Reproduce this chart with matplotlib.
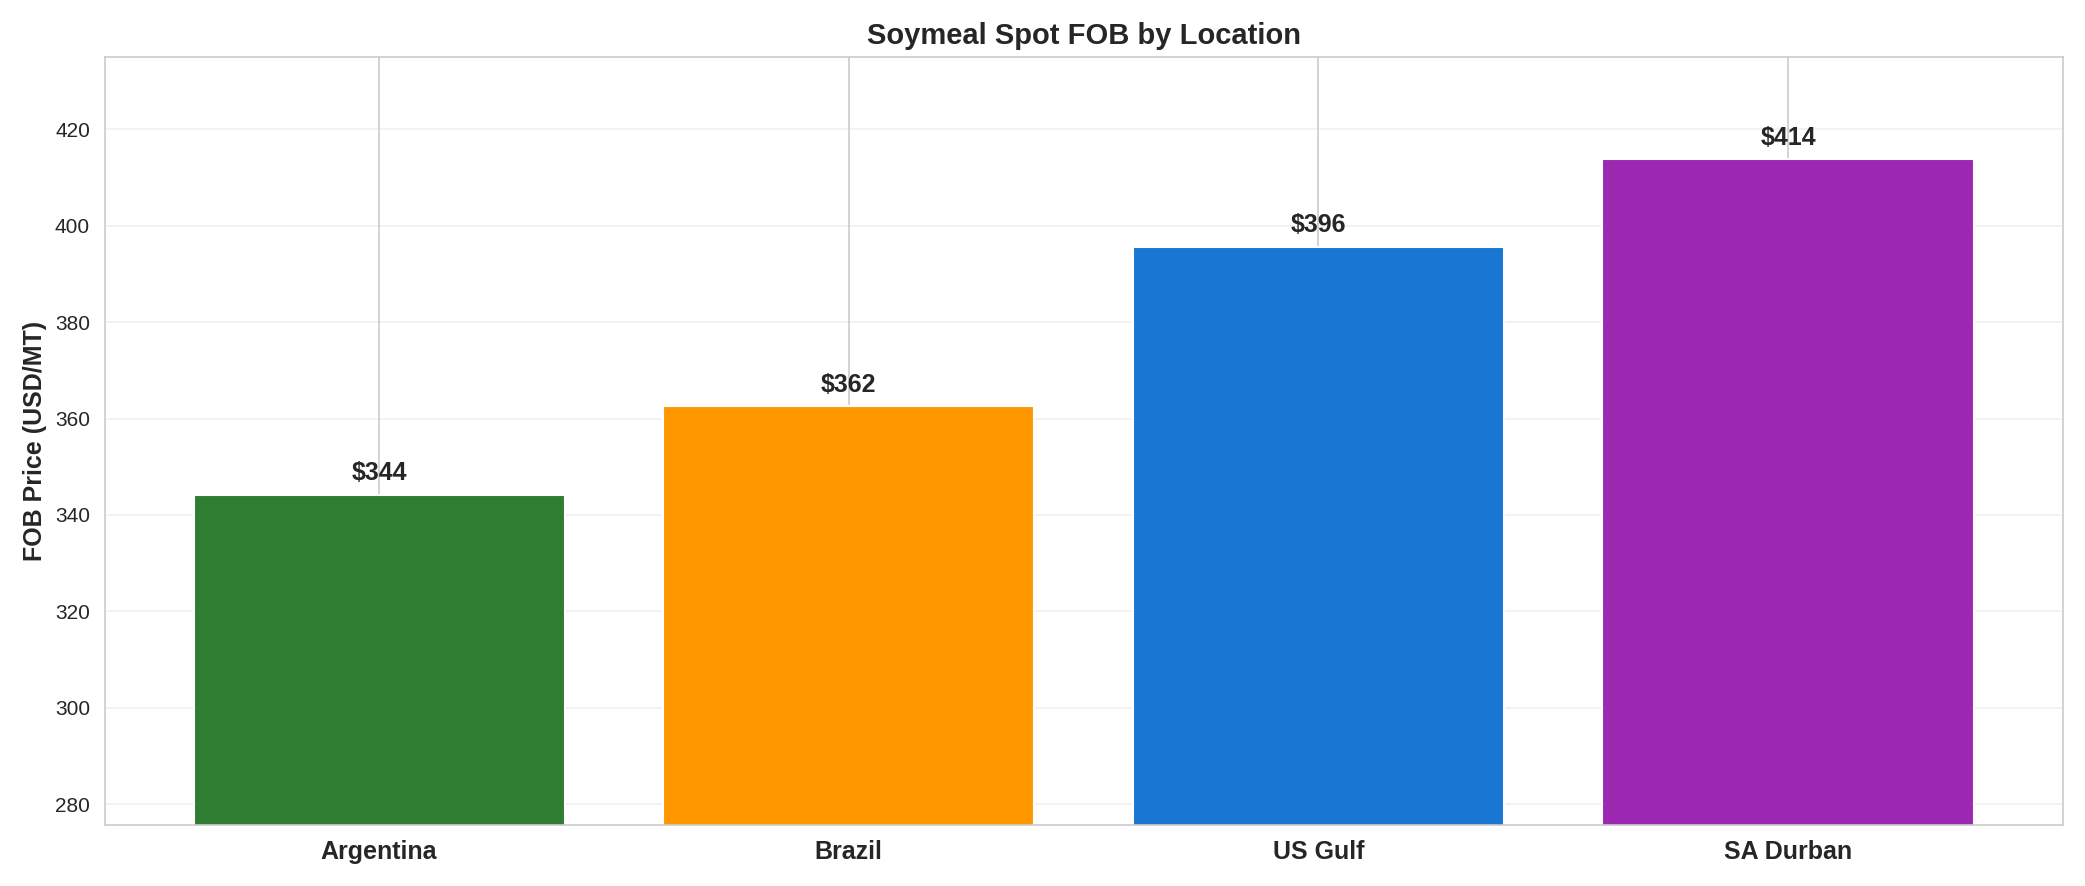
import matplotlib
matplotlib.use("Agg")
import matplotlib.pyplot as plt
import seaborn as sns

sns.set_style("whitegrid")
plt.rcParams['font.family'] = ['Arial', 'Liberation Sans', 'DejaVu Sans']

locations = ["Argentina", "Brazil", "US Gulf", "SA Durban"]
prices = [344.2, 362.5, 395.6, 413.8]
colors = ["#2e7d32", "#ff9800", "#1976d2", "#9c27b0"]

fig, ax = plt.subplots(figsize=(13.9, 5.907), dpi=150)
ax.grid(axis='y', alpha=0.3)
bars = ax.bar(locations, prices, color=colors, width=0.79, zorder=2)
for b, v in zip(bars, prices):
    ax.text(b.get_x() + b.get_width() / 2, v + 2, f"${v:.0f}", ha='center', va='bottom',
            fontsize=12, fontweight='bold', color='#262626', zorder=3)
ax.set_ylim(275.7, 435)
ax.set_ylabel("FOB Price (USD/MT)", fontsize=12, fontweight='bold')
ax.set_title("Soymeal Spot FOB by Location", fontsize=14, fontweight='bold')
ax.tick_params(axis='x', labelsize=12)
for t in ax.get_xticklabels():
    t.set_fontweight('bold')
ax.tick_params(axis='y', labelsize=10)
plt.tight_layout()
plt.savefig("out.png", dpi=150)
